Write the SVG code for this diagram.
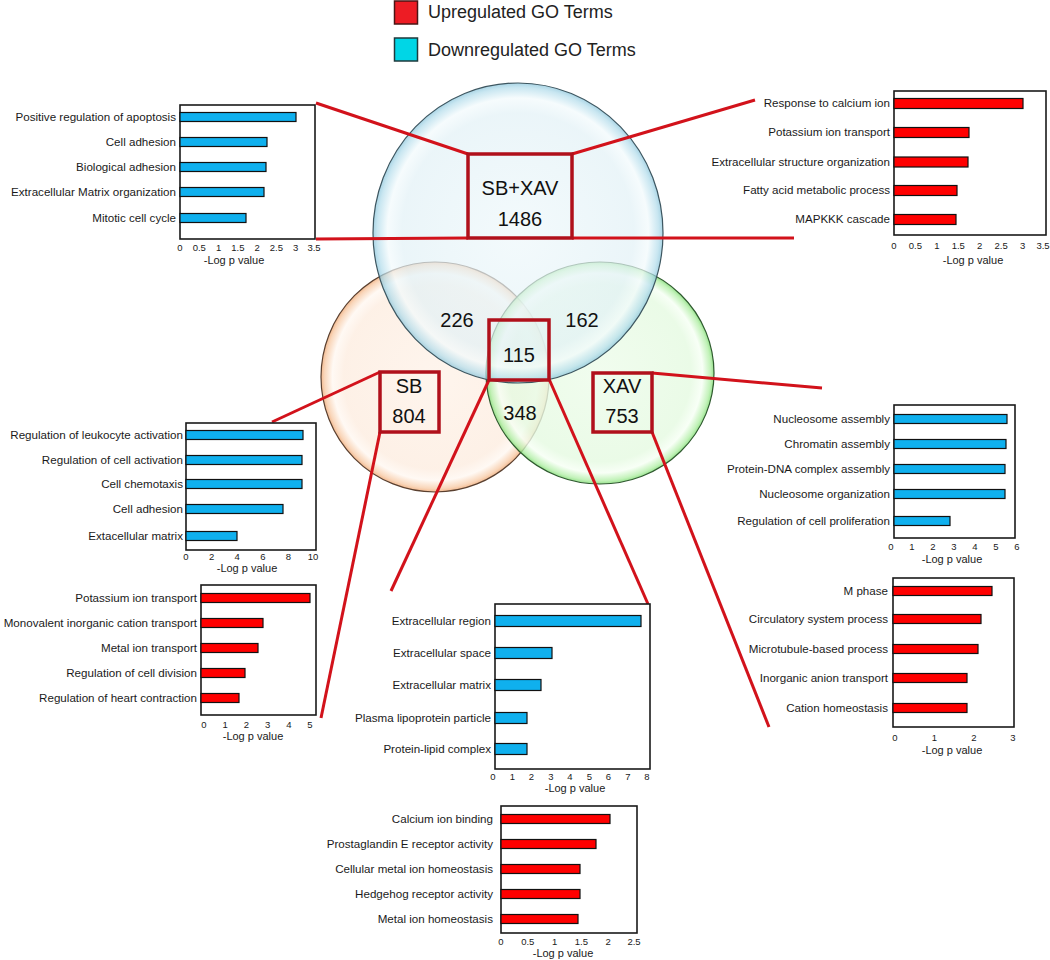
<svg xmlns="http://www.w3.org/2000/svg" width="1050" height="960" viewBox="0 0 1050 960">
<style>
text{font-family:"Liberation Sans",Arial,sans-serif;fill:#1a1a1a}
.lbl{font-size:11.6px;text-anchor:end}
.tk{font-size:9.5px;text-anchor:middle}
.ax{font-size:11px;text-anchor:middle}
.frame{fill:#fff;stroke:#1a1a1a;stroke-width:1.6}
.bb{fill:#0fb0ee;stroke:#111;stroke-width:1.2}
.br{fill:#ff0000;stroke:#111;stroke-width:1.2}
.conn line{stroke:#d2121b;stroke-width:3;stroke-linecap:butt}
.box{fill:none;stroke:#b0101b;stroke-width:3.5}
.vn{font-size:20px;text-anchor:middle;fill:#111}
.leg{font-size:18px;fill:#222}
</style>
<defs>
<radialGradient id="gBlue" cx="50%" cy="50%" r="50%">
<stop offset="0" stop-color="#eef8fb"/>
<stop offset="0.8" stop-color="#e2f1f6"/>
<stop offset="0.9" stop-color="#f2fafc"/>
<stop offset="0.97" stop-color="#b2dceb"/>
<stop offset="1" stop-color="#86c3da"/>
</radialGradient>
<radialGradient id="gOrange" cx="50%" cy="50%" r="50%">
<stop offset="0" stop-color="#fef3ea"/>
<stop offset="0.8" stop-color="#fdeee2"/>
<stop offset="0.9" stop-color="#fff8f2"/>
<stop offset="0.97" stop-color="#f8cfae"/>
<stop offset="1" stop-color="#f0ad7c"/>
</radialGradient>
<radialGradient id="gGreen" cx="50%" cy="50%" r="50%">
<stop offset="0" stop-color="#edfcea"/>
<stop offset="0.8" stop-color="#e5fae1"/>
<stop offset="0.9" stop-color="#f6fff4"/>
<stop offset="0.97" stop-color="#b4efa9"/>
<stop offset="1" stop-color="#7fdc72"/>
</radialGradient>
</defs>
<rect width="1050" height="960" fill="#fff"/>

<g id="legend">
<rect x="394.5" y="1" width="23" height="23" fill="#ed1c24" stroke="#4a1515" stroke-width="1.5"/>
<text class="leg" x="428" y="18">Upregulated GO Terms</text>
<rect x="394.5" y="38" width="23" height="23" fill="#00d6e6" stroke="#1f3a3d" stroke-width="1.5"/>
<text class="leg" x="428" y="56">Downregulated GO Terms</text>
</g>

<g id="venn">
<ellipse id="circle-sb" cx="435" cy="377" rx="114" ry="115" fill="url(#gOrange)" fill-opacity="0.85" stroke="#5a4030" stroke-width="1.2"/>
<ellipse id="circle-xav" cx="600" cy="373" rx="114" ry="111" fill="url(#gGreen)" fill-opacity="0.8" stroke="#2f5a2f" stroke-width="1.2"/>
<ellipse id="circle-sbxav" cx="518" cy="233" rx="145" ry="150" fill="url(#gBlue)" fill-opacity="0.7" stroke="#3d5660" stroke-width="1.2"/>
<text class="vn" x="457" y="327">226</text>
<text class="vn" x="582" y="327">162</text>
<text class="vn" x="519" y="362">115</text>
<text class="vn" x="520" y="420">348</text>
</g>

<g id="connectors" class="conn">
<line x1="468" y1="154" x2="316" y2="103"/>
<line x1="316" y1="239" x2="468" y2="238"/>
<line x1="572" y1="154" x2="755" y2="100"/>
<line x1="572" y1="238" x2="794" y2="238"/>
<line x1="380" y1="372" x2="272" y2="422"/>
<line x1="380" y1="432" x2="321" y2="718"/>
<line x1="489" y1="380" x2="391" y2="591"/>
<line x1="549" y1="379" x2="648" y2="604"/>
<line x1="652" y1="373" x2="822" y2="388"/>
<line x1="652" y1="432" x2="769" y2="727"/>
</g>

<g id="box-sbxav">
<rect class="box" x="468" y="154" width="104" height="84"/>
<text class="vn" x="520" y="195">SB+XAV</text>
<text class="vn" x="520" y="226">1486</text>
</g>
<g id="box-115">
<rect class="box" x="489" y="320" width="60" height="60"/>
</g>
<g id="box-sb">
<rect class="box" x="380" y="372" width="59" height="60"/>
<text class="vn" x="409" y="393">SB</text>
<text class="vn" x="409" y="423">804</text>
</g>
<g id="box-xav">
<rect class="box" x="593" y="373" width="59" height="59"/>
<text class="vn" x="622" y="393">XAV</text>
<text class="vn" x="622" y="423">753</text>
</g>

<g id="chart-sbxav-down">
<rect class="frame" x="180" y="105" width="135" height="134"/>
<rect class="bb" x="180" y="112.5" width="116" height="9"/>
<rect class="bb" x="180" y="137.5" width="87" height="9"/>
<rect class="bb" x="180" y="162.5" width="86" height="9"/>
<rect class="bb" x="180" y="187.5" width="84" height="9"/>
<rect class="bb" x="180" y="213.5" width="66" height="9"/>
<text class="lbl" x="176" y="121">Positive regulation of apoptosis</text>
<text class="lbl" x="176" y="146">Cell adhesion</text>
<text class="lbl" x="176" y="171">Biological adhesion</text>
<text class="lbl" x="176" y="196">Extracellular Matrix organization</text>
<text class="lbl" x="176" y="222">Mitotic cell cycle</text>
<text class="tk" x="180" y="251">0</text><text class="tk" x="199.3" y="251">0.5</text><text class="tk" x="218.6" y="251">1</text><text class="tk" x="237.9" y="251">1.5</text><text class="tk" x="257.1" y="251">2</text><text class="tk" x="276.4" y="251">2.5</text><text class="tk" x="295.7" y="251">3</text><text class="tk" x="314" y="251">3.5</text>
<text class="ax" x="234" y="264">-Log p value</text>
</g>

<g id="chart-sbxav-up">
<rect class="frame" x="894" y="91" width="152" height="144"/>
<rect class="br" x="894" y="98.5" width="129" height="10"/>
<rect class="br" x="894" y="127.5" width="75" height="10"/>
<rect class="br" x="894" y="157" width="74" height="10"/>
<rect class="br" x="894" y="185.5" width="63" height="10"/>
<rect class="br" x="894" y="214.5" width="62" height="10"/>
<text class="lbl" x="890" y="107">Response to calcium ion</text>
<text class="lbl" x="890" y="136">Potassium ion transport</text>
<text class="lbl" x="890" y="166">Extracellular structure organization</text>
<text class="lbl" x="890" y="194">Fatty acid metabolic process</text>
<text class="lbl" x="890" y="223">MAPKKK cascade</text>
<text class="tk" x="894" y="249">0</text><text class="tk" x="915.4" y="249">0.5</text><text class="tk" x="936.9" y="249">1</text><text class="tk" x="958.3" y="249">1.5</text><text class="tk" x="979.7" y="249">2</text><text class="tk" x="1001.1" y="249">2.5</text><text class="tk" x="1022.6" y="249">3</text><text class="tk" x="1043" y="249">3.5</text>
<text class="ax" x="973" y="264">-Log p value</text>
</g>

<g id="chart-sb-down">
<rect class="frame" x="186" y="423" width="130" height="127"/>
<rect class="bb" x="186" y="430.5" width="117" height="9"/>
<rect class="bb" x="186" y="455.5" width="116" height="9"/>
<rect class="bb" x="186" y="479.5" width="116" height="9"/>
<rect class="bb" x="186" y="504.5" width="97" height="9"/>
<rect class="bb" x="186" y="531.5" width="51" height="9"/>
<text class="lbl" x="183" y="439">Regulation of leukocyte activation</text>
<text class="lbl" x="183" y="464">Regulation of cell activation</text>
<text class="lbl" x="183" y="488">Cell chemotaxis</text>
<text class="lbl" x="183" y="513">Cell adhesion</text>
<text class="lbl" x="183" y="540">Extacellular matrix</text>
<text class="tk" x="186" y="560">0</text><text class="tk" x="211.6" y="560">2</text><text class="tk" x="237.2" y="560">4</text><text class="tk" x="262.8" y="560">6</text><text class="tk" x="288.4" y="560">8</text><text class="tk" x="313" y="560">10</text>
<text class="ax" x="247" y="572">-Log p value</text>
</g>

<g id="chart-sb-up">
<rect class="frame" x="201" y="585" width="115" height="130"/>
<rect class="br" x="201" y="593.5" width="109" height="9"/>
<rect class="br" x="201" y="618.5" width="62" height="9"/>
<rect class="br" x="201" y="643.5" width="57" height="9"/>
<rect class="br" x="201" y="668.5" width="44" height="9"/>
<rect class="br" x="201" y="693.5" width="38" height="9"/>
<text class="lbl" x="197" y="602">Potassium ion transport</text>
<text class="lbl" x="197" y="627">Monovalent inorganic cation transport</text>
<text class="lbl" x="197" y="652">Metal ion transport</text>
<text class="lbl" x="197" y="677">Regulation of cell division</text>
<text class="lbl" x="197" y="702">Regulation of heart contraction</text>
<text class="tk" x="204" y="728">0</text><text class="tk" x="225.2" y="728">1</text><text class="tk" x="246.4" y="728">2</text><text class="tk" x="267.6" y="728">3</text><text class="tk" x="288.8" y="728">4</text><text class="tk" x="310" y="728">5</text>
<text class="ax" x="253" y="740">-Log p value</text>
</g>

<g id="chart-115-down">
<rect class="frame" x="495" y="604" width="155" height="165"/>
<rect class="bb" x="495" y="615.5" width="146" height="11"/>
<rect class="bb" x="495" y="647.5" width="57" height="11"/>
<rect class="bb" x="495" y="679.5" width="46" height="11"/>
<rect class="bb" x="495" y="712.5" width="32" height="11"/>
<rect class="bb" x="495" y="743.5" width="32" height="11"/>
<text class="lbl" x="491" y="625">Extracellular region</text>
<text class="lbl" x="491" y="657">Extracellular space</text>
<text class="lbl" x="491" y="689">Extracellular matrix</text>
<text class="lbl" x="491" y="722">Plasma lipoprotein particle</text>
<text class="lbl" x="491" y="753">Protein-lipid complex</text>
<text class="tk" x="493" y="780">0</text><text class="tk" x="512.3" y="780">1</text><text class="tk" x="531.5" y="780">2</text><text class="tk" x="550.8" y="780">3</text><text class="tk" x="570" y="780">4</text><text class="tk" x="589.3" y="780">5</text><text class="tk" x="608.5" y="780">6</text><text class="tk" x="627.8" y="780">7</text><text class="tk" x="647" y="780">8</text>
<text class="ax" x="575" y="792">-Log p value</text>
</g>

<g id="chart-115-up">
<rect class="frame" x="501" y="806" width="136" height="127"/>
<rect class="br" x="501" y="814.5" width="109" height="9"/>
<rect class="br" x="501" y="839.5" width="95" height="9"/>
<rect class="br" x="501" y="864.5" width="79" height="9"/>
<rect class="br" x="501" y="889.5" width="79" height="9"/>
<rect class="br" x="501" y="914.5" width="77" height="9"/>
<text class="lbl" x="493" y="823">Calcium ion binding</text>
<text class="lbl" x="493" y="848">Prostaglandin E receptor activity</text>
<text class="lbl" x="493" y="873">Cellular metal ion homeostasis</text>
<text class="lbl" x="493" y="898">Hedgehog receptor activity</text>
<text class="lbl" x="493" y="923">Metal ion homeostasis</text>
<text class="tk" x="501" y="945">0</text><text class="tk" x="527.8" y="945">0.5</text><text class="tk" x="554.6" y="945">1</text><text class="tk" x="581.4" y="945">1.5</text><text class="tk" x="608.2" y="945">2</text><text class="tk" x="634" y="945">2.5</text>
<text class="ax" x="563" y="957">-Log p value</text>
</g>

<g id="chart-xav-down">
<rect class="frame" x="894" y="405" width="121" height="133"/>
<rect class="bb" x="894" y="414.5" width="113" height="9"/>
<rect class="bb" x="894" y="439.5" width="112" height="9"/>
<rect class="bb" x="894" y="464.5" width="111" height="9"/>
<rect class="bb" x="894" y="489.5" width="111" height="9"/>
<rect class="bb" x="894" y="516.5" width="56" height="9"/>
<text class="lbl" x="890" y="423">Nucleosome assembly</text>
<text class="lbl" x="890" y="448">Chromatin assembly</text>
<text class="lbl" x="890" y="473">Protein-DNA complex assembly</text>
<text class="lbl" x="890" y="498">Nucleosome organization</text>
<text class="lbl" x="890" y="525">Regulation of cell proliferation</text>
<text class="tk" x="891" y="550">0</text><text class="tk" x="912" y="550">1</text><text class="tk" x="933" y="550">2</text><text class="tk" x="954" y="550">3</text><text class="tk" x="975" y="550">4</text><text class="tk" x="996" y="550">5</text><text class="tk" x="1017" y="550">6</text>
<text class="ax" x="952" y="563">-Log p value</text>
</g>

<g id="chart-xav-up">
<rect class="frame" x="893" y="578" width="121" height="149"/>
<rect class="br" x="893" y="586.5" width="99" height="9"/>
<rect class="br" x="893" y="614.5" width="88" height="9"/>
<rect class="br" x="893" y="644.5" width="85" height="9"/>
<rect class="br" x="893" y="673.5" width="74" height="9"/>
<rect class="br" x="893" y="703.5" width="74" height="9"/>
<text class="lbl" x="888" y="595">M phase</text>
<text class="lbl" x="888" y="623">Circulatory system process</text>
<text class="lbl" x="888" y="653">Microtubule-based process</text>
<text class="lbl" x="888" y="682">Inorganic anion transport</text>
<text class="lbl" x="888" y="712">Cation homeostasis</text>
<text class="tk" x="895" y="741">0</text><text class="tk" x="934.4" y="741">1</text><text class="tk" x="973.8" y="741">2</text><text class="tk" x="1013" y="741">3</text>
<text class="ax" x="952" y="754">-Log p value</text>
</g>
</svg>
